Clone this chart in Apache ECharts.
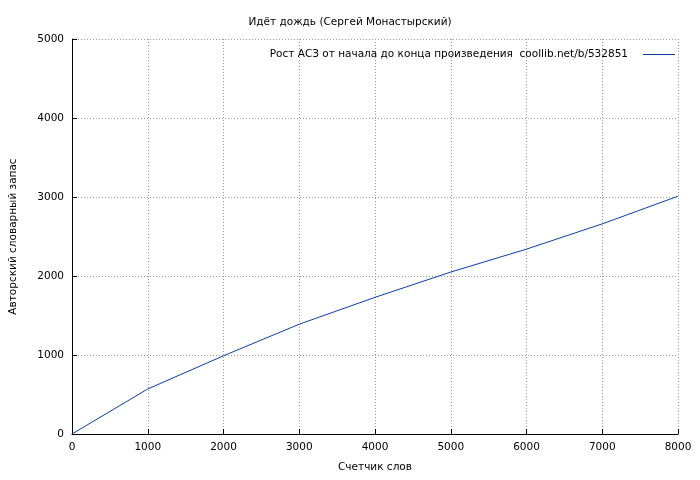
<!DOCTYPE html>
<html>
<head>
<meta charset="utf-8">
<script src="https://cdn.jsdelivr.net/npm/echarts@6/dist/echarts.min.js"></script>
<style>html,body{margin:0;padding:0;background:#fff}#c{width:700px;height:480px}</style>
</head>
<body>
<div id="c"></div>
<script>
const words = [0, 1000, 2000, 3000, 4000, 5000, 6000, 7000, 8000]
const vocab = [0, 570, 990, 1390, 1730, 2050, 2340, 2660, 3010]
const seriesName = 'Рост АСЗ от начала до конца произведения  coollib.net/b/532851'

const font = 'DejaVu Sans'
const chart = echarts.init(document.getElementById('c'))
chart.setOption({
  animation: false,
  textStyle: { fontFamily: font },
  title: {
    text: 'Идёт дождь (Сергей Монастырский)',
    left: 'center', top: 12,
    textStyle: { fontSize: 10.5, fontWeight: 'normal', color: '#000', fontFamily: font }
  },
  legend: {
    right: 20, top: 44, itemWidth: 32, itemHeight: 1, icon: 'rect', itemGap: 0,
    textStyle: { fontSize: 10.5, color: '#000', fontFamily: font, padding: [0, 10, 0, 0] },
    align: 'right',
    data: [seriesName]
  },
  grid: { left: 69, right: 22, top: 39, bottom: 46 },
  xAxis: {
    type: 'value', min: 0, max: 8000, interval: 1000,
    name: 'Счетчик слов', nameLocation: 'middle', nameGap: 28,
    nameTextStyle: { fontSize: 10.5, color: '#000' },
    axisLine: { show: true, lineStyle: { color: '#000' } },
    axisTick: { inside: true, lineStyle: { color: '#000' } },
    axisLabel: { fontSize: 10.5, color: '#000', formatter: v => String(v) },
    splitLine: { show: true, lineStyle: { color: '#999', type: [1, 2] } }
  },
  yAxis: {
    type: 'value', min: 0, max: 5000, interval: 1000,
    name: 'Авторский словарный запас', nameLocation: 'middle', nameGap: 53,
    nameTextStyle: { fontSize: 10.5, color: '#000' },
    axisLine: { show: true, lineStyle: { color: '#000' } },
    axisTick: { inside: true, lineStyle: { color: '#000' } },
    axisLabel: { fontSize: 10.5, color: '#000', formatter: v => String(v) },
    splitLine: { show: true, lineStyle: { color: '#999', type: [1, 2] } }
  },
  series: [{
    name: seriesName, type: 'line', showSymbol: false,
    data: words.map((w, i) => [w, vocab[i]]),
    lineStyle: { color: '#0b3fa8', width: 1 },
    itemStyle: { color: '#0b3fa8' }
  }]
})
</script>
</body>
</html>
